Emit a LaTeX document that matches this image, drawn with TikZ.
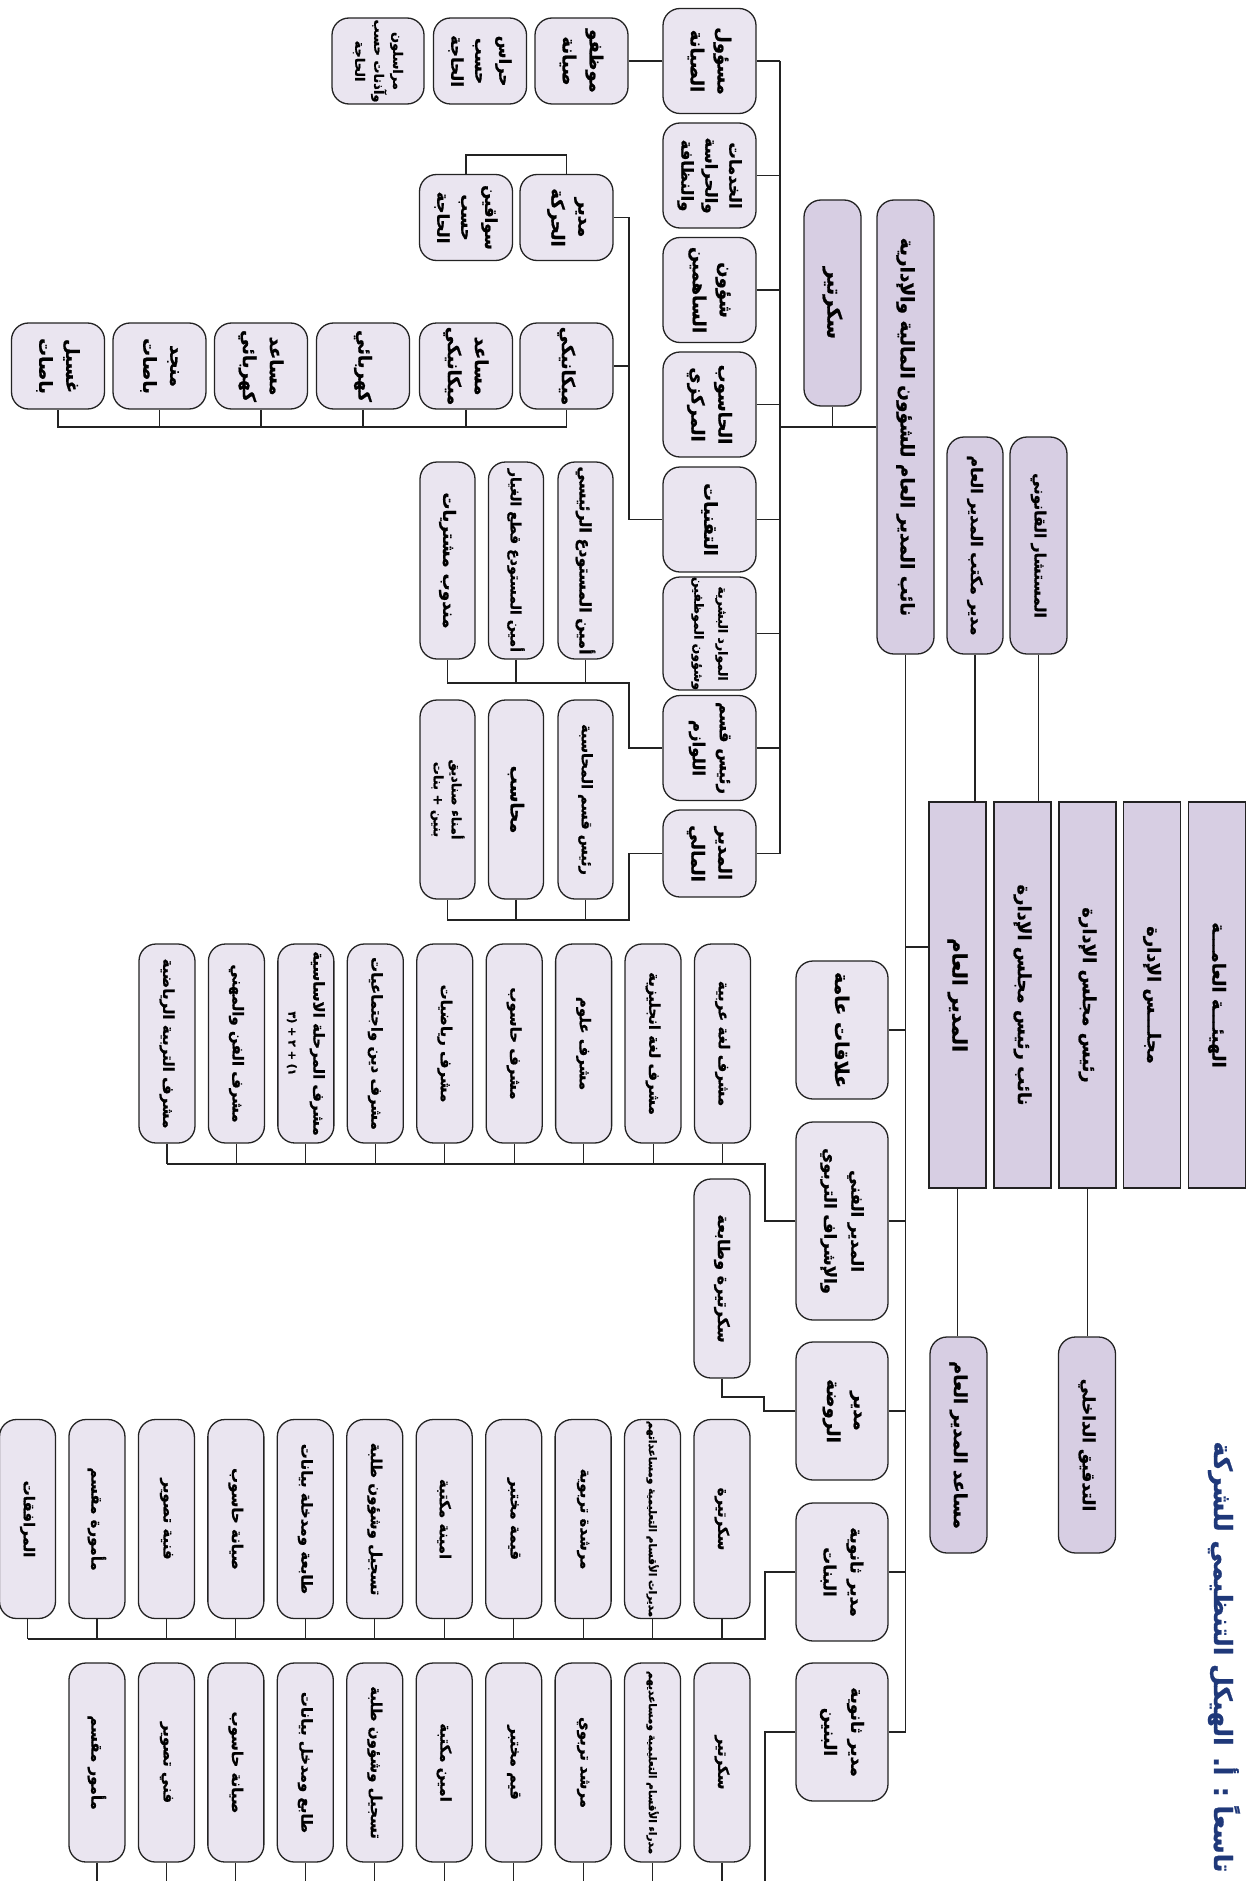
\documentclass[tikz,border=0pt]{standalone}
\usepackage{fontspec}
\newfontfamily\arabicfont[Script=Arabic, BoldFeatures={FakeBold=1}]{DejaVu Sans}
\TeXXeTstate=1
\definecolor{lightc}{RGB}{234,229,240}
\definecolor{darkc}{RGB}{215,206,227}
\definecolor{linec}{RGB}{35,35,35}
\definecolor{titlec}{RGB}{31,56,121}
\newcommand{\ar}[1]{\beginR #1\endR}
\newcommand{\fs}[2]{\arabicfont\bfseries\fontsize{#1}{#2}\selectfont}
\newcommand{\fsmall}{\fontsize{10.5}{14}\selectfont}
\begin{document}
\begin{tikzpicture}[x=1pt, y=-1pt,
  every node/.style={font=\fs{15}{25}, align=center},
  box/.style={draw=linec, line width=1.3pt, rounded corners=17pt, fill=lightc, rotate=-90, inner sep=0pt},
  topbox/.style={box, fill=darkc, font=\fs{17}{25}},
  rectbox/.style={draw=linec, line width=1.3pt, fill=darkc, rotate=-90, inner sep=0pt, minimum width=386pt, minimum height=57pt, font=\fs{18}{25}},
  sqbox/.style={box, minimum width=86pt, minimum height=93pt, font=\fs{18}{27}},
  colbox/.style={box, minimum width=105pt, minimum height=93pt, font=\fs{18}{27}},
  sidebox/.style={box, minimum width=138pt, minimum height=92pt, font=\fs{18}{27}},
  tallbox/.style={box, minimum width=199pt, minimum height=56pt},
  conn/.style={draw=linec, line width=1.1pt}]
  \useasboundingbox (0,0) rectangle (1251,1881);
  \clip (0,0) rectangle (1251,1881);
  % title
  \node[font=\fs{25}{30}, text=titlec, rotate=-90, anchor=east] (title) at (1224,1876) {\ar{تاسعاً : أ. الهيكل التنظيمي للشركة}};
  % top level
  \node[rectbox] (hayaa) at (1217,995) {\ar{الهيئـــة العامـــة}};
  \node[rectbox] (majlis) at (1152,995) {\ar{مجلـــس الإدارة}};
  \node[rectbox] (rais) at (1087.5,995) {\ar{رئيس مجلس الإدارة}};
  \node[rectbox] (naibrais) at (1022.5,995) {\ar{نائب رئيس مجلس الإدارة}};
  \node[rectbox, font=\fs{20}{25}] (mudir) at (957.5,995) {\ar{المدير العام}};
  \node[topbox, minimum width=216pt, minimum height=57pt] (tadqiq) at (1087,1445) {\ar{التدقيق الداخلي}};
  \node[topbox, minimum width=216pt, minimum height=57pt, font=\fs{18}{25}] (musaid) at (958.5,1445) {\ar{مساعد المدير العام}};
  \node[topbox, minimum width=217pt, minimum height=57pt, font=\fs{15.5}{25}] (mustashar) at (1038.5,545.5) {\ar{المستشار القانوني}};
  \node[topbox, minimum width=217pt, minimum height=56pt, font=\fs{16}{25}] (maktab) at (975,545.5) {\ar{مدير مكتب المدير العام}};
  \node[topbox, minimum width=454pt, minimum height=57pt, font=\fs{18.5}{25}] (naib) at (905.5,427) {\ar{نائب المدير العام للشؤون المالية والإدارية}};
  \node[topbox, minimum width=206pt, minimum height=57pt, font=\fs{20}{25}] (sec) at (832.5,303) {\ar{سكرتير}};
  \draw[conn] (mustashar.east) -- (mustashar.east |- naibrais.west);
  \draw[conn] (maktab.east) -- (maktab.east |- mudir.west);
  \draw[conn] (rais.east) -- (rais.east |- tadqiq.west);
  \draw[conn] (mudir.east) -- (mudir.east |- musaid.west);
  % finance and administration
  \node[colbox] (masul) at (709.5,61) {\ar{مسؤول}\\\ar{الصيانة}};
  \node[colbox, font=\fs{16.5}{24}] (khadamat) at (709.5,175.5) {\ar{الخدمات}\\\ar{والحراسة}\\\ar{والنظافة}};
  \node[colbox] (shuun) at (709.5,290) {\ar{شؤون}\\\ar{الساهمين}};
  \node[colbox] (hasub) at (709.5,404.5) {\ar{الحاسوب}\\\ar{المركزي}};
  \node[colbox] (taqniyat) at (709.5,519.5) {\ar{التقنيات}};
  \node[colbox, font=\fs{12.5}{24}] (mawarid) at (709.5,633.5) {\ar{الموارد البشرية}\\\ar{وشؤون الموظفين}};
  \node[colbox, font=\fs{16.5}{27}] (lawazim) at (709.5,748) {\ar{رئيس قسم}\\\ar{اللوازم}};
  \node[colbox, minimum width=87pt] (mali) at (709.5,853.5) {\ar{المدير}\\\ar{المالي}};
  \coordinate (bus) at (780,427);
  \draw[conn] (naib.south) -- (bus);
  \draw[conn] (sec.east) -- (sec.east |- bus);
  \draw[conn] (bus |- masul.north) -- (bus |- mali.north);
  \foreach \n in {masul,khadamat,shuun,hasub,taqniyat,mawarid,lawazim,mali}
    \draw[conn] (\n.north) -- (bus |- \n.north);
  % maintenance
  \node[sqbox] (muwazzaf) at (581.5,61) {\ar{موظفو}\\\ar{صيانة}};
  \node[sqbox, font=\fs{16.5}{24}] (hurras) at (480,61) {\ar{حراس}\\\ar{حسب}\\\ar{الحاجة}};
  \node[sqbox, minimum height=92pt, font=\fs{13}{19}] (murasilun) at (378,61) {\ar{مراسلون}\\\ar{وآذنات حسب}\\\ar{الحاجة}};
  \draw[conn] (masul.south) -- (muwazzaf.north);
  % technical services
  \node[sqbox] (haraka) at (566.5,217.5) {\ar{مدير}\\\ar{الحركة}};
  \node[sqbox, font=\fs{16.5}{24}] (sawaqin) at (466,217.5) {\ar{سواقين}\\\ar{حسب}\\\ar{الحاجة}};
  \node[sqbox] (mekan) at (566.5,366) {\ar{ميكانيكي}};
  \node[sqbox] (musmekan) at (466,366) {\ar{مساعد}\\\ar{ميكانيكي}};
  \node[sqbox] (kahraba) at (363,366) {\ar{كهربائي}};
  \node[sqbox] (muskahraba) at (261,366) {\ar{مساعد}\\\ar{كهربائي}};
  \node[sqbox] (munajjid) at (159.5,366) {\ar{منجد}\\\ar{باصات}};
  \node[sqbox] (ghasil) at (58,366) {\ar{غسيل}\\\ar{باصات}};
  \coordinate (tq) at (629,519.5);
  \draw[conn] (taqniyat.south) -- (tq) |- (haraka.north);
  \draw[conn] (tq |- mekan.north) -- (mekan.north);
  \draw[conn] (haraka.west) -- (haraka.west |- 0,155) -| (sawaqin.west);
  \draw[conn] (mekan.east) -- (mekan.east |- 0,427) -- (ghasil.east |- 0,427) -- (ghasil.east);
  \foreach \n in {musmekan,kahraba,muskahraba,munajjid}
    \draw[conn] (\n.east) -- (\n.east |- 0,427);
  % stores and accounts
  \node[box, minimum width=197pt, minimum height=55pt, font=\fs{16}{25}] (amin1) at (585.5,560.5) {\ar{أمين المستودع الرئيسي}};
  \node[box, minimum width=197pt, minimum height=55pt, font=\fs{14.2}{25}] (amin2) at (516,560.5) {\ar{أمين المستودع قطع الغيار}};
  \node[box, minimum width=197pt, minimum height=55pt, font=\fs{17}{25}] (mandub) at (447.5,560.5) {\ar{مندوب مشتريات}};
  \node[box, minimum width=199pt, minimum height=55pt, font=\fs{14.5}{25}] (raisacc) at (585.5,799.5) {\ar{رئيس قسم المحاسبة}};
  \node[box, minimum width=199pt, minimum height=55pt, font=\fs{18}{25}] (muhasib) at (516,799.5) {\ar{محاسب}};
  \node[box, minimum width=199pt, minimum height=55pt, font=\fs{13}{18}] (umana) at (447.5,799.5) {\ar{أمناء صناديق}\\\ar{بنين + بنات}};
  \draw[conn] (lawazim.south) -| (629,683) -- (mandub.east |- 0,683) -- (mandub.east);
  \draw[conn] (mali.south) -| (629,920) -- (umana.east |- 0,920) -- (umana.east);
  \foreach \n in {amin1,amin2}
    \draw[conn] (\n.east) -- (\n.east |- 0,683);
  \foreach \n in {raisacc,muhasib}
    \draw[conn] (\n.east) -- (\n.east |- 0,920);
  % general manager branch
  \node[sidebox, font=\fs{19}{27}] (alaqat) at (842,1030) {\ar{علاقات عامة}};
  \node[sidebox, minimum width=198pt, font=\fs{16.5}{27}] (fanni) at (842,1221) {\ar{المدير الفني}\\\ar{والإشراف التربوي}};
  \node[sidebox] (rawda) at (842,1411) {\ar{مدير}\\\ar{الروضة}};
  \node[sidebox, font=\fs{17}{27}] (banat) at (842,1572) {\ar{مدير ثانوية}\\\ar{البنات}};
  \node[sidebox, font=\fs{17}{27}] (binin) at (842,1732) {\ar{مدير ثانوية}\\\ar{البنين}};
  \node[tallbox, font=\fs{16}{25}] (sectab) at (722,1278.5) {\ar{سكرتيرة وطابعة}};
  \draw[conn] (naib.east) -- (naib.east |- binin.north);
  \draw[conn] (mudir.south |- 0,947) -- (naib.east |- 0,947);
  \foreach \n in {alaqat,fanni,rawda,banat,binin}
    \draw[conn] (naib.east |- \n.north) -- (\n.north);
  \draw[conn] (rawda.south) -| (764,1397) -| (sectab.east);
  % supervisors
  \foreach \t [count=\i from 0] in {{\ar{مشرف لغة عربية}}, {\ar{مشرف لغة انجليزية}}, {\ar{مشرف علوم}}, {\ar{مشرف حاسوب}}, {\ar{مشرف رياضيات}}, {\ar{مشرف دين واجتماعيات}}, {\ar{مشرف المرحلة الاساسية}\\{\fontsize{11}{13}\selectfont\beginL(٣ + ٢ + ١)\endL}}, {\ar{مشرف الفن والمهني}}, {\ar{مشرف التربية الرياضية}}}
  {
    \node[tallbox] (sup\i) at ({722.5-69.44*\i},1043.5) {\t};
    \draw[conn] (sup\i.east) -- (sup\i.east |- 0,1164);
  }
  \draw[conn] (fanni.south) -| (765,1164) -- (sup8.east |- 0,1164);
  % girls school
  \foreach \t [count=\i from 0] in {سكرتيرة, {\fsmall مديرات الأقسام التعليمية ومساعداتهم}, مرشدة تربوية, قيمة مختبر, امينة مكتبة, تسجيل وشؤون طلبة, طابعة ومدخلة بيانات, صيانة حاسوب, فنية تصوير, مأمورة مقسم, المرافقات}
  {
    \node[tallbox] (g\i) at ({722-69.45*\i},1519) {\ar{\t}};
    \draw[conn] (g\i.east) -- (g\i.east |- 0,1639);
  }
  \draw[conn] (banat.south) -| (765,1639) -- (g10.east |- 0,1639);
  % boys school
  \foreach \t [count=\i from 0] in {سكرتير, {\fsmall مدراء الأقسام التعليمية ومساعديهم}, مرشد تربوي, قيم مختبر, امين مكتبة, تسجيل وشؤون طلبة, طابع ومدخل بيانات, صيانة حاسوب, فني تصوير, مأمور مقسم}
  {
    \node[tallbox] (b\i) at ({722-69.45*\i},1762.5) {\ar{\t}};
    \draw[conn] (b\i.east) -- (b\i.east |- 0,1881);
  }
  \draw[conn] (binin.south) -| (765,1881);
\end{tikzpicture}
\end{document}
